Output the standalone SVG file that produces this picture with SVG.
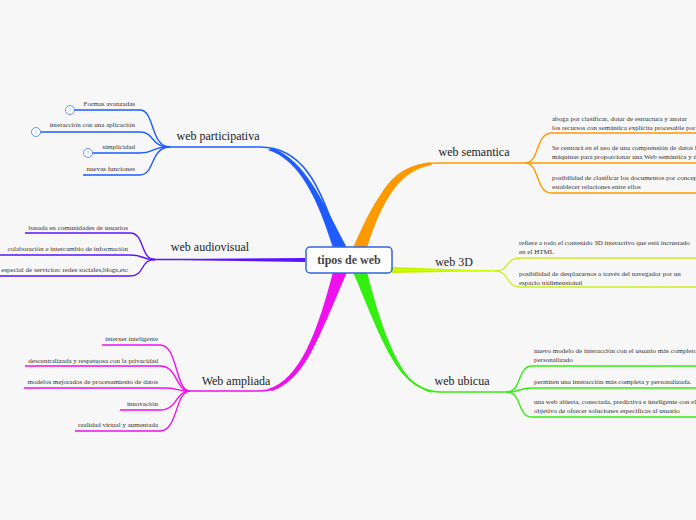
<svg xmlns="http://www.w3.org/2000/svg" width="696" height="520" viewBox="0 0 696 520">
<style>
.t{font-family:"Liberation Serif",serif;font-size:7px;fill:#333}
.m{font-family:"Liberation Serif",serif;font-size:12px;fill:#222}
.s{fill:none;stroke-width:1.4}
</style>
<rect width="696" height="520" fill="#f7f7f7"/>
<g id="connectors">
<!-- main branches -->
<path d="M340,248 C320,180 300,147 260,147 L170,147" fill="none" stroke="#1e5cff" stroke-width="1.6"/>
<path d="M333,248 C318,200 300,160 268,150 L272,148 C305,160 322,200 347,248Z" fill="#1e5cff"/>
<path d="M305,258 L150,259.5 L305,262Z" fill="#5a14ff"/>
<path d="M150,259.5 L305,259.5" stroke="#5a14ff" stroke-width="1.3"/>
<path d="M340,272 C320,340 300,391 260,391 L190,391" fill="none" stroke="#ee11ee" stroke-width="1.6"/>
<path d="M333,272 C318,330 300,380 268,389 L272,391 C305,380 322,330 347,272Z" fill="#ee11ee"/>
<path d="M360,248 C380,180 400,163 440,163 L520,163" fill="none" stroke="#ff9900" stroke-width="1.6"/>
<path d="M353,248 C378,190 395,168 430,162 L432,165 C400,170 382,200 367,248Z" fill="#ff9900"/>
<path d="M392,267 L500,271 L392,273Z" fill="#c8f000"/>
<path d="M392,270 L500,271" stroke="#ccff00" stroke-width="1.5"/>
<path d="M360,272 C380,340 400,392 440,392 L510,392" fill="none" stroke="#33ee11" stroke-width="1.6"/>
<path d="M353,272 C378,330 395,385 430,391 L432,393 C400,385 382,330 367,272Z" fill="#33ee11"/>
<!-- participativa subs -->
<g stroke="#1e5cff" class="s">
<path d="M170,147 C150,147 155,110 140,110 L70,110"/>
<path d="M170,147 C150,147 155,132 140,132 L36,132"/>
<path d="M170,147 C150,147 155,153 140,153 L88,153"/>
<path d="M170,147 C150,147 155,175 140,175 L83,175"/>
</g>
<!-- audiovisual subs -->
<g stroke="#5a14ff" class="s">
<path d="M155,259.5 C140,259.5 145,233 130,233 L25,233"/>
<path d="M155,259.5 C140,259.5 145,255 130,255 L0,255"/>
<path d="M155,259.5 C140,259.5 145,276 130,276 L0,276"/>
</g>
<!-- ampliada subs -->
<g stroke="#ee11ee" class="s">
<path d="M190,391 C175,391 178,345 160,345 L102,345"/>
<path d="M190,391 C175,391 178,366 160,366 L25,366"/>
<path d="M190,391 C175,391 178,388 165,388 L24,388"/>
<path d="M190,391 C175,391 178,410 160,410 L120,410"/>
<path d="M190,391 C175,391 178,431 160,431 L75,431"/>
</g>
<!-- semantica subs -->
<g stroke="#ff9900" class="s">
<path d="M525,163 C540,163 535,133 552,133 L696,133"/>
<path d="M520,163 L696,163"/>
<path d="M525,163 C540,163 535,193 552,193 L696,193"/>
</g>
<g stroke="#ccee22" class="s">
<path d="M495,271 C510,271 505,258 520,258 L696,258"/>
<path d="M495,271 C510,271 505,287 520,287 L696,287"/>
</g>
<g stroke="#33ee11" class="s">
<path d="M507,392 C522,392 517,366 532,366 L696,366"/>
<path d="M507,392 C522,392 517,388 532,388 L696,388"/>
<path d="M507,392 C522,392 517,417 532,417 L696,417"/>
</g>
</g>
<g id="icons" fill="#fff" stroke="#4477ff" stroke-width="0.8">
<circle cx="70" cy="110" r="4.5"/><circle cx="36" cy="132" r="4.5"/><circle cx="88" cy="153" r="4.5"/>
</g>
<g font-family="Liberation Sans,sans-serif" font-size="5" fill="#4477ff" text-anchor="middle">
<text x="70" y="112">!</text><text x="36" y="134">!</text><text x="88" y="155">!</text>
</g>
<g id="center">
<rect x="306" y="247" width="86" height="26" rx="4" fill="#fff" stroke="#3366dd" stroke-width="1.5"/>
<text x="349" y="264" text-anchor="middle" style="font-family:'Liberation Serif',serif;font-size:12px;font-weight:bold;fill:#444">tipos de web</text>
</g>
<g id="web-participativa"><text class="m" x="218" y="140" text-anchor="middle">web participativa</text>
<g class="t" text-anchor="end"><text x="135" y="106">Formas avanzadas</text><text x="135" y="127">interacción con una aplicación</text><text x="135" y="149">simplicidad</text><text x="135" y="171">nuevas funciones</text></g></g>
<g id="web-audiovisual"><text class="m" x="210" y="251" text-anchor="middle">web audiovisual</text>
<g class="t" text-anchor="end"><text x="128" y="230">basada en comunidades de usuarios</text><text x="128" y="251">colaboración e intercambio de información</text><text x="128" y="272">especial de servicios: redes sociales,blogs,etc</text></g></g>
<g id="web-ampliada"><text class="m" x="236" y="385" text-anchor="middle">Web ampliada</text>
<g class="t" text-anchor="end"><text x="158" y="341">internet inteligente</text><text x="158" y="363">descentralizada y respetuosa con la privacidad</text><text x="158" y="384">modelos mejorados de procesamiento de datos</text><text x="158" y="406">innovación</text><text x="158" y="427">realidad virtual y aumentada</text></g></g>
<g id="web-semantica"><text class="m" x="474" y="156" text-anchor="middle">web semantica</text>
<g class="t"><text x="552" y="121">aboga por clasificar, dotar de estructura y anotar</text><text x="552" y="130">los recursos con semántica explícita procesable por máquinas</text>
<text x="552" y="150">Se centrará en el uso de una comprensión de datos legibles por</text><text x="552" y="159">máquinas para proporcionar una Web semántica y útil</text>
<text x="552" y="180">posibilidad de clasificar los documentos por conceptos y</text><text x="552" y="189">establecer relaciones entre ellos</text></g></g>
<g id="web-3d"><text class="m" x="454" y="266" text-anchor="middle">web 3D</text>
<g class="t"><text x="519" y="245">refiere a todo el contenido 3D interactivo que está incrustado</text><text x="519" y="254">en el HTML</text>
<text x="519" y="276">posibilidad de desplazarnos a través del navegador por un</text><text x="519" y="285">espacio tridimensional</text></g></g>
<g id="web-ubicua"><text class="m" x="462" y="385" text-anchor="middle">web ubicua</text>
<g class="t"><text x="534" y="353">nuevo modelo de interacción con el usuario más completo y</text><text x="534" y="362">personalizado</text>
<text x="534" y="384">permiten una interacción más completa y personalizada.</text>
<text x="534" y="404">una web abierta, conectada, predictiva e inteligente con el</text><text x="534" y="413">objetivo de ofrecer soluciones específicas al usuario</text></g></g>
</svg>
